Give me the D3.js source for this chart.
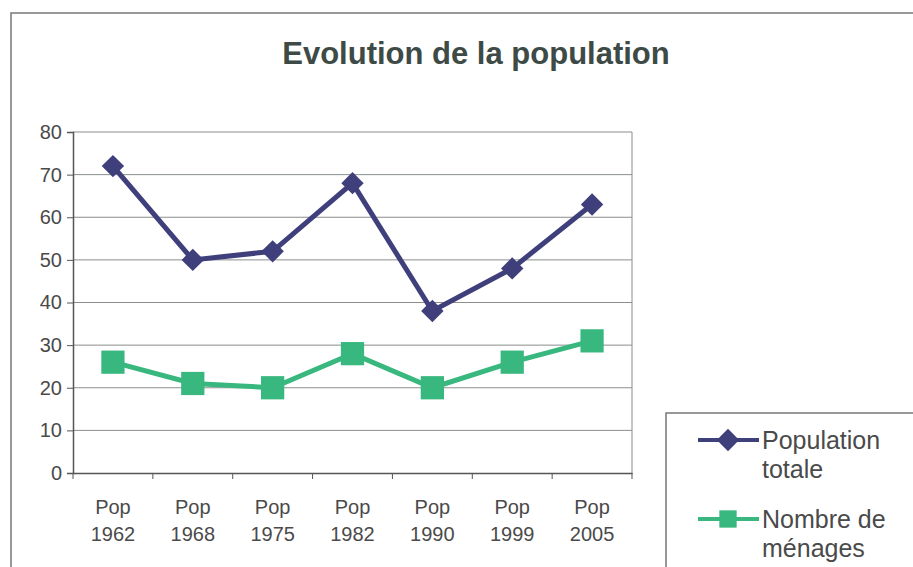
<!DOCTYPE html>
<html>
<head>
<meta charset="utf-8">
<script src="https://cdn.jsdelivr.net/npm/d3@7"></script>
<style>
  body { margin: 0; background: #fff; }
  text { font-family: Arial, "Liberation Sans", sans-serif; }
</style>
</head>
<body>
<script>
var w = 913;
var h = 567;

// DATA
var categories = ["Pop\n1962", "Pop\n1968", "Pop\n1975", "Pop\n1982", "Pop\n1990", "Pop\n1999", "Pop\n2005"];
var populationTotale = [72, 50, 52, 68, 38, 48, 63];
var nombreMenages = [26, 21, 20, 28, 20, 26, 31];
var yTicks = [0, 10, 20, 30, 40, 50, 60, 70, 80];

var svg = d3.select("body").append("svg")
  .attr("width", w)
  .attr("height", h);

// chart frame (outer border of the excel chart)
svg.append("path")
  .attr("d", "M11,567 L11,13 L913,13")
  .attr("fill", "none")
  .attr("stroke", "#777")
  .attr("stroke-width", 1.5);

svg.append("text")
  .attr("x", 476)
  .attr("y", 64)
  .attr("text-anchor", "middle")
  .style("font-size", "31px")
  .style("font-weight", "bold")
  .attr("fill", "#3d4a46")
  .text("Evolution de la population");

var margin = {left: 73, top: 132, right: 632, bottom: 473};

var x = d3.scaleBand().domain(categories).range([margin.left, margin.right]);
var y = d3.scaleLinear().domain([0, 80]).range([margin.bottom, margin.top]);

// gridlines
svg.append("g")
  .selectAll("line")
  .data(yTicks.slice(1))
  .enter().append("line")
  .attr("x1", margin.left)
  .attr("x2", margin.right)
  .attr("y1", function(d) { return y(d); })
  .attr("y2", function(d) { return y(d); })
  .attr("stroke", "#8a8f8c")
  .attr("stroke-width", 1);

// right border of plot
svg.append("line")
  .attr("x1", margin.right).attr("x2", margin.right)
  .attr("y1", margin.top).attr("y2", margin.bottom)
  .attr("stroke", "#8a8f8c");

// Y AXIS
var yAxis = svg.append("g")
  .attr("transform", "translate(" + margin.left + ",0)")
  .call(d3.axisLeft(y).tickValues(yTicks).tickSize(6).tickPadding(5));
yAxis.select(".domain").attr("stroke", "#555").attr("stroke-width", 1.5);
yAxis.selectAll(".tick line").attr("stroke", "#555");
yAxis.selectAll("text")
  .style("font-size", "20px")
  .attr("fill", "#4a4a4a")
  .attr("font-family", "Arial, 'Liberation Sans', sans-serif");

// X AXIS
var xAxis = svg.append("g")
  .attr("transform", "translate(0," + margin.bottom + ")")
  .call(d3.axisBottom(x).tickSize(0).tickFormat(""));
xAxis.select(".domain").attr("stroke", "#555").attr("stroke-width", 1.5);

// tick marks between categories
svg.append("g")
  .selectAll("line")
  .data(categories.concat(["end"]))
  .enter().append("line")
  .attr("x1", function(d, i) { return margin.left + i * x.step(); })
  .attr("x2", function(d, i) { return margin.left + i * x.step(); })
  .attr("y1", margin.bottom)
  .attr("y2", margin.bottom + 6)
  .attr("stroke", "#555");

var labels = svg.append("g")
  .selectAll("text")
  .data(categories)
  .enter().append("text")
  .attr("text-anchor", "middle")
  .attr("fill", "#4a4a4a")
  .style("font-size", "20px");
labels.each(function(d) {
  var parts = d.split("\n");
  var t = d3.select(this);
  var cx = x(d) + x.bandwidth() / 2;
  t.append("tspan").attr("x", cx).attr("y", 514).text(parts[0]);
  t.append("tspan").attr("x", cx).attr("y", 541).text(parts[1]);
});

function px(d, i) { return x(categories[i]) + x.bandwidth() / 2; }

var line = d3.line()
  .x(function(d, i) { return px(d, i); })
  .y(function(d) { return y(d); });

var popColor = "#3f3f7c";
var menColor = "#38b87e";

svg.append("path")
  .datum(populationTotale)
  .attr("d", line)
  .attr("fill", "none")
  .attr("stroke", popColor)
  .attr("stroke-width", 5);

svg.append("path")
  .datum(nombreMenages)
  .attr("d", line)
  .attr("fill", "none")
  .attr("stroke", menColor)
  .attr("stroke-width", 5);

var diamond = d3.symbol().type(d3.symbolDiamond2).size(320);
var square = d3.symbol().type(d3.symbolSquare).size(540);

svg.append("g")
  .selectAll("path")
  .data(populationTotale)
  .enter().append("path")
  .attr("d", diamond)
  .attr("transform", function(d, i) { return "translate(" + px(d, i) + "," + y(d) + ")"; })
  .attr("fill", popColor);

svg.append("g")
  .selectAll("path")
  .data(nombreMenages)
  .enter().append("path")
  .attr("d", square)
  .attr("transform", function(d, i) { return "translate(" + px(d, i) + "," + y(d) + ")"; })
  .attr("fill", menColor);

// LEGEND
svg.append("path")
  .attr("d", "M666,567 L666,413 L913,413")
  .attr("fill", "none")
  .attr("stroke", "#777")
  .attr("stroke-width", 1.5);

var legendSquare = d3.symbol().type(d3.symbolSquare).size(300);
var legend = [
  {name: ["Population", "totale"], color: popColor, sym: diamond, y: 440},
  {name: ["Nombre de", "ménages"], color: menColor, sym: legendSquare, y: 519}
];
legend.forEach(function(l) {
  svg.append("line")
    .attr("x1", 698).attr("x2", 759)
    .attr("y1", l.y).attr("y2", l.y)
    .attr("stroke", l.color)
    .attr("stroke-width", 4);
  svg.append("path")
    .attr("d", l.sym)
    .attr("transform", "translate(728," + l.y + ")")
    .attr("fill", l.color);
  var t = svg.append("text")
    .attr("fill", "#4a4a4a")
    .style("font-size", "25px");
  t.append("tspan").attr("x", 762).attr("y", l.y + 9).text(l.name[0]);
  t.append("tspan").attr("x", 762).attr("y", l.y + 38).text(l.name[1]);
});
</script>
</body>
</html>
